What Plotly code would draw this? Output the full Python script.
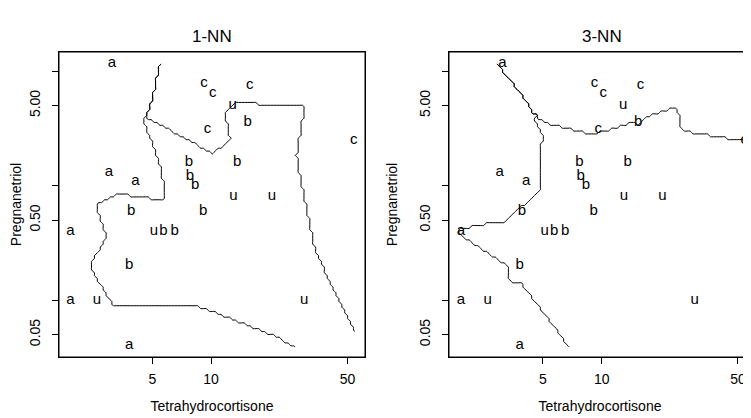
import numpy as np
import plotly.graph_objects as go

# Cushings data (MASS): Tetrahydrocortisone, Pregnanetriol, Type
tetra = [3.1, 3.0, 1.9, 3.8, 4.1, 1.9,
         8.3, 3.8, 3.9, 7.8, 9.1, 15.4, 7.7, 6.5, 5.7, 13.6,
         10.2, 9.2, 9.6, 53.8, 15.8,
         5.1, 12.9, 13.0, 2.6, 30.0, 20.5]
preg = [11.7, 1.3, 0.1, 0.04, 1.1, 0.4,
        1.0, 0.2, 0.6, 1.2, 0.6, 3.6, 1.6, 0.4, 0.4, 1.6,
        6.4, 7.9, 3.1, 2.5, 7.6,
        0.4, 5.0, 0.8, 0.1, 0.1, 0.8]
types = list("aaaaaa" + "bbbbbbbbbb" + "ccccc" + "uuuuuu")

x_ticks = [5, 10, 50]
x_ticktext = ["5", "10", "50"]
y_ticks = [0.05, 0.1, 0.5, 1, 5, 10]
y_ticktext = ["0.05", "", "0.50", "", "5.00", ""]

# ─── knn on a log grid (training = types a, b, c only) ───
train = [i for i, t in enumerate(types) if t != "u"]
scale = np.array([3.4, 5.7])
Xtr = np.log(np.column_stack([np.array(tetra)[train], np.array(preg)[train]])) / scale
ytr = np.array([types[i] for i in train])
classes = ["a", "b", "c"]
yidx = np.array([classes.index(t) for t in ytr])

xp = np.linspace(0.6, 4.0, 100)
yp = np.linspace(-3.25, 2.45, 100)
XX, YY = np.meshgrid(xp, yp)
G = np.column_stack([XX.ravel(), YY.ravel()]) / scale
D = ((G[:, None, :] - Xtr[None, :, :]) ** 2).sum(axis=2)
order = np.argsort(D, axis=1)


def knn(k):
    out = np.empty(len(G), dtype=int)
    for r in range(len(G)):
        nb = yidx[order[r, :k]]
        cnt = np.bincount(nb, minlength=3)
        best = np.flatnonzero(cnt == cnt.max())
        out[r] = nb[0] if len(best) > 1 and nb[0] in best else best[0]
    return out.reshape(XX.shape)


FONT = "Liberation Sans, Arial, sans-serif"
fig = go.Figure()

for n, (k, xa, ya) in enumerate([(1, "x", "y"), (3, "x2", "y2")]):
    Z = knn(k)
    fig.add_trace(go.Scatter(
        x=tetra, y=preg, text=types, mode="text",
        textfont=dict(size=15, color="black", family=FONT),
        xaxis=xa, yaxis=ya, showlegend=False, hoverinfo="skip",
    ))
    for cl in (0, 2):
        fig.add_trace(go.Contour(
            x=np.exp(xp), y=np.exp(yp), z=(Z == cl).astype(float),
            autocontour=False,
            contours=dict(start=0.5, end=0.5, size=1, coloring="lines"),
            colorscale=[[0, "black"], [1, "black"]],
            line=dict(width=1, color="black"),
            showscale=False, xaxis=xa, yaxis=ya, hoverinfo="skip",
        ))

# page has an 8px body margin: figure is 743x410, positions below are target px - 8
W, H = 743, 410
ydom = [1 - 349 / H, 1 - 44 / H]

axis_common = dict(
    type="log", showgrid=False, zeroline=False, showline=True, automargin=False,
    linecolor="black", linewidth=1, ticks="outside", ticklen=6,
    tickcolor="black", tickfont=dict(size=14, color="black", family=FONT),
)
xtitle = dict(text="Tetrahydrocortisone", font=dict(size=14), standoff=15)
ytitle = dict(text="Pregnanetriol", font=dict(size=14), standoff=16)

fig.update_layout(
    template="none",
    width=W, height=H,
    margin=dict(l=0, r=0, t=0, b=0),
    paper_bgcolor="white", plot_bgcolor="white",
    font=dict(family=FONT, color="black"),
    xaxis=dict(axis_common, domain=[51 / W, 357 / W], range=[0.2207, 1.7889],
               tickvals=x_ticks, ticktext=x_ticktext, ticklabelstandoff=3,
               mirror=True, anchor="y", title=xtitle),
    yaxis=dict(axis_common, domain=ydom, range=[-1.4966, 1.1668],
               tickvals=y_ticks, ticktext=y_ticktext, tickangle=-90, ticklabelstandoff=6,
               mirror=True, anchor="x", title=ytitle),
    xaxis2=dict(axis_common, domain=[441 / W, 1], range=[0.217, 1.766],
                tickvals=x_ticks, ticktext=x_ticktext, ticklabelstandoff=3,
                mirror=True, anchor="y2", title=xtitle),
    yaxis2=dict(axis_common, domain=ydom, range=[-1.4966, 1.1668],
                tickvals=y_ticks, ticktext=y_ticktext, tickangle=-90, ticklabelstandoff=6,
                mirror=False, anchor="x2", title=ytitle),
    shapes=[
        dict(type="rect", xref="x domain", yref="y domain", x0=0, x1=1, y0=0, y1=1,
             line=dict(color="black", width=1)),
        dict(type="rect", xref="x2 domain", yref="y2 domain", x0=0, x1=1.02, y0=0, y1=1,
             line=dict(color="black", width=1)),
    ],
    annotations=[
        dict(text="1-NN", x=204 / W, y=1 - 29 / H, xref="paper", yref="paper",
             xanchor="center", yanchor="middle", showarrow=False,
             font=dict(size=17, family=FONT, color="black")),
        dict(text="3-NN", x=594 / W, y=1 - 29 / H, xref="paper", yref="paper",
             xanchor="center", yanchor="middle", showarrow=False,
             font=dict(size=17, family=FONT, color="black")),
    ],
)

fig.write_html("out.html")
